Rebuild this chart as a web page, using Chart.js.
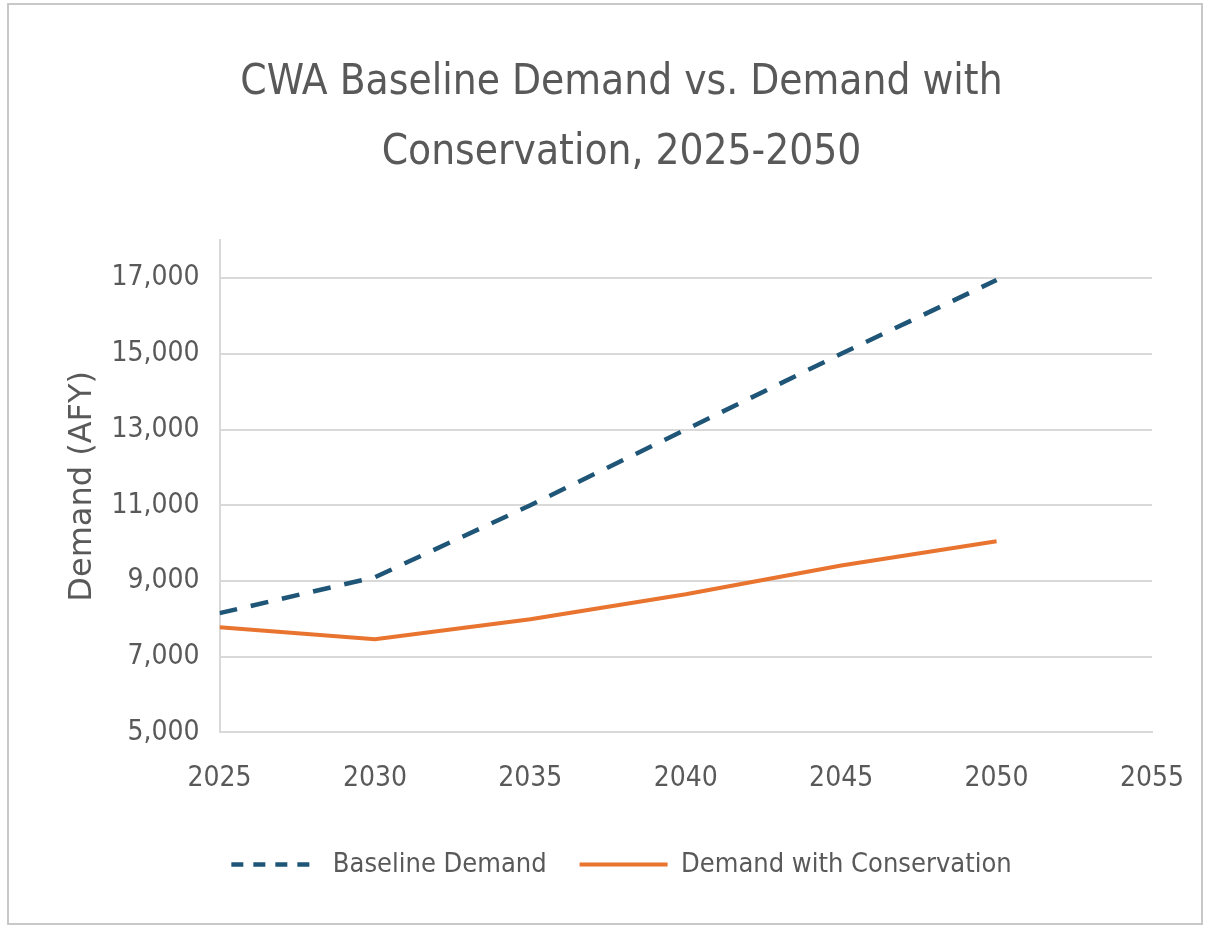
<!DOCTYPE html>
<html>
<head>
<meta charset="utf-8">
<script src="https://cdn.jsdelivr.net/npm/chart.js@4.4.1/dist/chart.umd.min.js"></script>
<style>
  html, body { margin: 0; padding: 0; background: #fff; }
  #frame {
    position: absolute; left: 7px; top: 3px;
    width: 1196px; height: 922px;
    border: 2px solid #c8c8c8; box-sizing: border-box;
  }
  canvas { display: block; }
</style>
</head>
<body>
<div id="frame"><canvas id="chartDemand" width="1192" height="918"></canvas></div>
<script>
// values (AFY)
const years = [2025, 2030, 2035, 2040, 2045, 2050];
const baselineDemand = [8150, 9100, 11000, 13000, 15000, 16950];
const conservationDemand = [7780, 7460, 7990, 8650, 9410, 10050];
const yTicks = [5000, 7000, 9000, 11000, 13000, 15000, 17000];
const titleLines = ["CWA Baseline Demand vs. Demand with", "Conservation, 2025-2050"];

const NARROW = "'Liberation Sans Narrow', 'DejaVu Sans Condensed', 'Roboto', sans-serif";
const TEXT_GREY = "#595959";
const GRID = "#d9d9d9";

Chart.defaults.font.family = NARROW;
Chart.defaults.color = TEXT_GREY;

const toPoints = (vals) => years.map((y, i) => ({ x: y, y: vals[i] }));

new Chart(document.getElementById("chartDemand").getContext("2d"), {
  type: "line",
  data: {
    datasets: [
      {
        label: "Baseline Demand",
        data: toPoints(baselineDemand),
        borderColor: "#1f5677",
        backgroundColor: "#1f5677",
        borderWidth: 4.5,
        borderDash: [18, 14],
        pointRadius: 0,
        tension: 0,
      },
      {
        label: "Demand with Conservation",
        data: toPoints(conservationDemand),
        borderColor: "#e8742f",
        backgroundColor: "#e8742f",
        borderWidth: 4,
        pointRadius: 0,
        tension: 0,
      },
    ],
  },
  options: {
    responsive: false,
    animation: false,
    layout: { padding: { left: 54, right: 21, top: 0, bottom: 35 } },
    plugins: {
      title: {
        display: true,
        text: titleLines,
        color: TEXT_GREY,
        font: { size: 42, weight: "normal", lineHeight: 1.67 },
        padding: { top: 43, bottom: 52 },
      },
      legend: {
        position: "bottom",
        labels: {
          usePointStyle: true,
          pointStyle: "line",
          pointStyleWidth: 88,
          boxHeight: 27,
          padding: 33,
          color: TEXT_GREY,
          font: { size: 27 },
          // keep the dash of the baseline series in the legend sample
          generateLabels: (chart) => {
            const items = Chart.defaults.plugins.legend.labels.generateLabels(chart);
            items.forEach((it) => {
              const ds = chart.data.datasets[it.datasetIndex];
              it.lineDash = ds.borderDash ? [12, 10] : [];
              it.lineWidth = ds.borderWidth;
              it.strokeStyle = ds.borderColor;
            });
            return items;
          },
        },
      },
      tooltip: { enabled: false },
    },
    scales: {
      x: {
        type: "linear",
        min: 2025,
        max: 2055,
        ticks: { stepSize: 5, callback: (v) => String(v), font: { size: 28 }, padding: 22 },
        grid: { display: false },
        border: { display: true, color: GRID, width: 2 },
        afterFit: (scale) => { scale.paddingRight = 49; },
      },
      y: {
        min: 5000,
        max: 18000,
        afterBuildTicks: (axis) => {
          axis.ticks = yTicks.map((v) => ({ value: v }));
        },
        ticks: {
          font: { size: 28 },
          padding: 20,
          callback: (v) => v.toLocaleString("en-US"),
        },
        grid: { color: GRID, lineWidth: 2, drawTicks: false },
        border: { display: true, color: GRID, width: 2 },
        title: {
          display: true,
          text: "Demand (AFY)",
          color: TEXT_GREY,
          font: { family: "'DejaVu Sans', sans-serif", size: 32 },
          padding: { top: 0, bottom: -10 },
        },
      },
    },
  },
});
</script>
</body>
</html>
